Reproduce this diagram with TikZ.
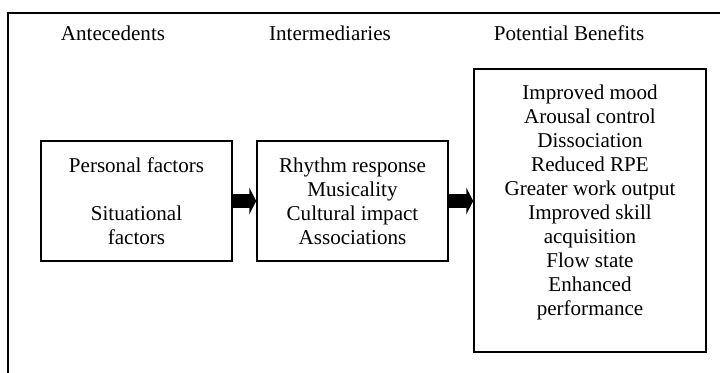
\documentclass[tikz,border=0pt]{standalone}
\usepackage{fontspec}
\setmainfont{Liberation Serif}
\usepackage{tikz}
\usetikzlibrary{positioning,calc,arrows.meta}

\begin{document}
\begin{tikzpicture}[x=0.75pt, y=-0.75pt, line cap=rect, line join=miter,
		font=\fontsize{15.8}{18}\selectfont]
	\useasboundingbox (0,0) rectangle (720,372);
	
	% ---- khung ngoai (bi cat o ben phai va ben duoi) ----
	\draw[line width=1.5pt] (720,13) -- (8,13) -- (8,372);
	
	% ---- tieu de cac cot ----
	\node (hAnte)  at (113,33) {Antecedents};
	\node (hInter) at (330,33) {Intermediaries};
	\node (hBen)   at (569,33) {Potential Benefits};
	
	% ---- cac hop ----
	\tikzset{stage/.style={rectangle, draw, line width=1.1pt, align=center,
			inner sep=0pt, minimum width=143.25pt, minimum height=90pt}}
	\node[stage] (ante)  at (136.5,201) {Personal factors\\[18pt]Situational\\factors};
	\node[stage] (inter) at (352.5,201) {Rhythm response\\Musicality\\Cultural impact\\Associations};
	\node[stage, minimum width=174pt, minimum height=212.25pt] (ben) at (590,210.5)
	{Improved mood\\Arousal control\\Dissociation\\Reduced RPE\\Greater work output\\
		Improved skill\\acquisition\\Flow state\\Enhanced\\performance\\[-2.25pt]};
	
	% ---- mui ten khoi ----
	\tikzset{flow/.style={-{Triangle[length=5.25pt, width=20pt]}, line width=10pt, line cap=butt}}
	\draw[flow] (ante.east)  -- (inter.west);
	\draw[flow] (inter.east) -- (ben.west |- inter.west);
\end{tikzpicture}
\end{document}
